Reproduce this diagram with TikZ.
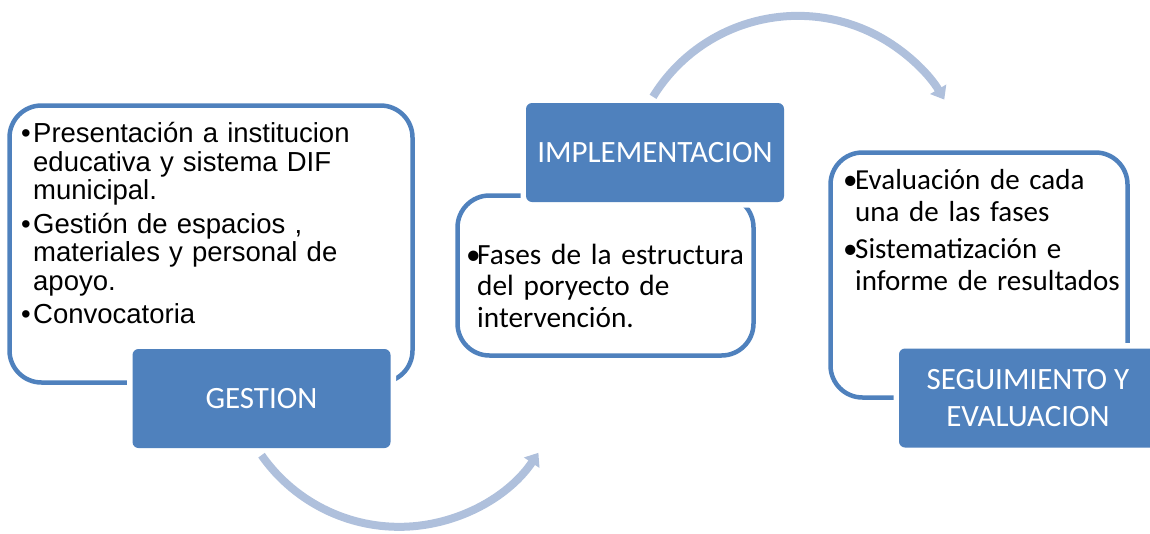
\documentclass[tikz,border=0pt]{standalone}
\usepackage{fontspec}
\setmainfont{Carlito}
\newfontfamily\arial{Liberation Sans}
\usetikzlibrary{arrows.meta,positioning}
\definecolor{azul}{RGB}{79,129,189}
\definecolor{celeste}{RGB}{175,192,220}
\newlength\sangria
\newcommand\vineta[1]{\hangindent=\sangria\hangafter=1\noindent\makebox[\sangria][l]{\textbullet}#1\par}

\begin{document}
\begin{tikzpicture}[x=1pt,y=-1pt,
  marco/.style={draw=azul,line width=4.5pt,rounded corners=32pt,inner sep=0pt},
  etiqueta/.style={fill=azul,rounded corners=6pt,text=white,align=center,
    font=\fontsize{31}{37}\selectfont,minimum width=258pt,minimum height=99pt,
    preaction={draw=white,line width=11pt}},
  lista/.style={anchor=north west,inner sep=0pt,align=left,text width=330pt},
  flecha/.style={draw=celeste,line width=8pt,-{Triangle[width=18pt,length=12pt]}}]
  \useasboundingbox (0,0) rectangle (1150,533);

  \node[marco,minimum width=403pt,minimum height=277pt] (marcogestion) at (211,244) {};
  \node[marco,minimum width=296pt,minimum height=160pt] (marcoimpl) at (605.5,275.5) {};
  \node[marco,minimum width=297pt,minimum height=245pt] (marcoseg) at (979,275) {};

  \node[etiqueta] (gestion) at (261.5,398.5) {GESTION};
  \node[etiqueta] (impl) at (655,152.5) {IMPLEMENTACION};
  \node[etiqueta] (seg) at (1028,398) {SEGUIMIENTO Y\\EVALUACION};

  % listas de cada fase
  \node[lista,font={\arial\fontsize{27.5}{28.5}\selectfont\setlength\sangria{12pt}\setlength\parskip{5pt}}]
    (txtgestion) at (21,122.5) {\vineta{Presentación a institucion\newline educativa y sistema DIF\newline municipal.}
    \vineta{Gestión de espacios ,\newline materiales y personal de\newline apoyo.}
    \vineta{Convocatoria}};
  \node[lista,font={\fontsize{29.3}{31.5}\selectfont\setlength\sangria{11pt}}]
    (txtimpl) at (466,243.5) {\vineta{Fases de la estructura\newline del poryecto de\newline intervención.}};
  \node[lista,font={\fontsize{29}{32}\selectfont\setlength\sangria{12pt}\setlength\parskip{5.5pt}}]
    (txtseg) at (843,169) {\vineta{Evaluación de cada\newline una de las fases}
    \vineta{Sistematización e\newline informe de resultados}};

  \draw[flecha] ([yshift=-7pt]gestion.south) arc[start angle=145,end angle=34,radius=168];
  \draw[flecha] ([shift={(-2pt,6pt)}]impl.north) arc[start angle=211.6,end angle=329.5,radius=170];
\end{tikzpicture}
\end{document}
